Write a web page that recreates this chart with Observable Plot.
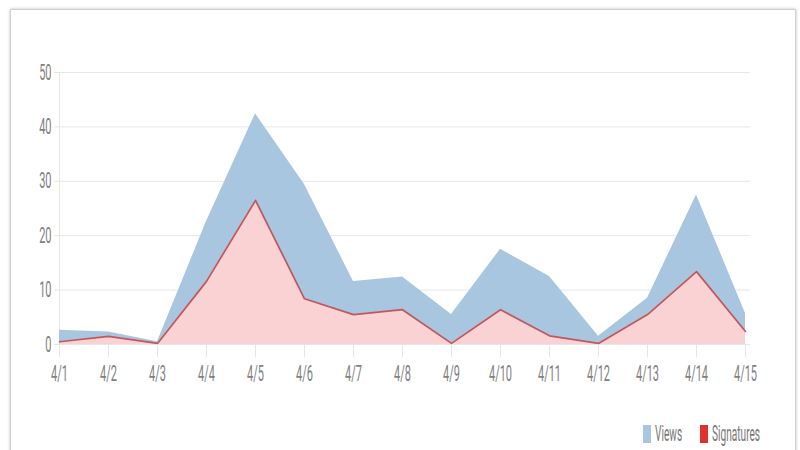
<!DOCTYPE html>
<html>
<head>
<meta charset="utf-8">
<script src="https://cdn.jsdelivr.net/npm/d3@7"></script>
<script src="https://cdn.jsdelivr.net/npm/@observablehq/plot@0.6"></script>
<style>
  html, body { margin: 0; padding: 0; background: #fff; }
  body { width: 800px; height: 450px; position: relative; overflow: hidden;
         font-family: Roboto, "Liberation Sans", Arial, sans-serif; }
  #frame { position: absolute; left: 10px; top: 9px; width: 784px; height: 460px;
           border: 1px solid #d0d0d0; box-shadow: 0 0 3px rgba(0,0,0,0.25); background: #fff; }
  #chart { position: absolute; left: 0; top: 0; }
  #legend { position: absolute; left: 0; top: 0; width: 784px; height: 450px; pointer-events: none; }
  #legend .sw { position: absolute; width: 8px; height: 18px; top: 415px; }
  #legend .lbl { position: absolute; top: 411px; font-size: 22px; line-height: 26px; color: #777;
                 transform: scaleX(0.46); transform-origin: left center; white-space: nowrap; }
</style>
</head>
<body>
<div id="frame">
  <div id="chart"></div>
  <div id="legend"></div>
</div>
<script>
const dates = ["4/1","4/2","4/3","4/4","4/5","4/6","4/7","4/8","4/9","4/10","4/11","4/12","4/13","4/14","4/15"];
const views = [2.6, 2.3, 0.5, 22.6, 42.4, 29.4, 11.6, 12.4, 5.5, 17.5, 12.5, 1.5, 8.5, 27.5, 5.7];
const signatures = [0.5, 1.5, 0.2, 11.6, 26.5, 8.4, 5.5, 6.4, 0.2, 6.4, 1.6, 0.2, 5.5, 13.4, 2.4];
const yTicks = [0, 10, 20, 30, 40, 50];
const seriesNames = ["Views", "Signatures"];
const swatchColors = ["#a9c6e0", "#e0312f"];

const data = dates.map((d, i) => ({date: d, views: views[i], signatures: signatures[i]}));

const chart = Plot.plot({
  width: 784,
  height: 380,
  marginLeft: 43,
  marginRight: 45,
  marginTop: 62,
  marginBottom: 46,
  style: {fontFamily: 'Roboto, "Liberation Sans", Arial, sans-serif', fontSize: "22px", color: "#777", background: "transparent"},
  x: {type: "point", domain: dates, padding: 0, label: null},
  y: {domain: [0, 50], label: null},
  marks: [
    Plot.gridY(yTicks, {stroke: "#e6e6e6", strokeOpacity: 1}),
    Plot.ruleX([dates[0]], {stroke: "#e6e6e6"}),
    Plot.areaY(data, {x: "date", y: "views", fill: "#a9c6e0", fillOpacity: 1}),
    Plot.areaY(data, {x: "date", y: "signatures", fill: "#fad2d4", fillOpacity: 1}),
    Plot.lineY(data, {x: "date", y: "signatures", stroke: "#c0575a", strokeWidth: 1.7}),
    Plot.axisY(yTicks, {tickSize: 0, tickPadding: 3, fill: "#808080", fontSize: 22}),
    Plot.axisX(dates, {tickSize: 13, stroke: "#e6e6e6", tickPadding: 8, fill: "#808080", fontSize: 22})
  ]
});
document.getElementById("chart").appendChild(chart);

// condense tick labels horizontally, like the reference's narrow type
chart.querySelectorAll("text").forEach(t => {
  const w = t.getComputedTextLength();
  if (w > 0) {
    t.setAttribute("textLength", (w * 0.5).toFixed(2));
    t.setAttribute("lengthAdjust", "spacingAndGlyphs");
  }
});

const legend = document.getElementById("legend");
const swX = [632, 689];
const lblX = [644, 701];
seriesNames.forEach((name, i) => {
  const sw = document.createElement("div");
  sw.className = "sw";
  sw.style.left = swX[i] + "px";
  sw.style.background = swatchColors[i];
  legend.appendChild(sw);
  const lbl = document.createElement("div");
  lbl.className = "lbl";
  lbl.style.left = lblX[i] + "px";
  lbl.textContent = name;
  legend.appendChild(lbl);
});
</script>
</body>
</html>
